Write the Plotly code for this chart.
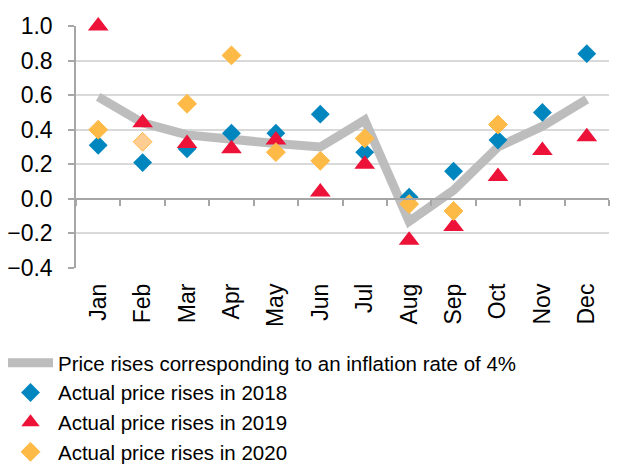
import plotly.graph_objects as go

months = ["Jan", "Feb", "Mar", "Apr", "May", "Jun", "Jul", "Aug", "Sep", "Oct", "Nov", "Dec"]
inflation_4pct = [0.59, 0.44, 0.37, 0.34, 0.32, 0.30, 0.456, -0.13, 0.05, 0.30, 0.42, 0.576]
rises_2018 = [0.31, 0.21, 0.29, 0.38, 0.38, 0.49, 0.27, 0.01, 0.16, 0.34, 0.50, 0.84]
rises_2019 = [1.00, 0.44, 0.32, 0.29, 0.34, 0.04, 0.20, -0.24, -0.16, 0.13, 0.28, 0.36]
rises_2020 = [0.40, 0.33, 0.55, 0.83, 0.27, 0.22, 0.35, -0.03, -0.07, 0.43, None, None]

y_ticks = [-0.4, -0.2, 0.0, 0.2, 0.4, 0.6, 0.8, 1.0]
y_min, y_max = -0.4, 1.0

FONT = "Liberation Sans, Arial, sans-serif"
BLUE = "#0086BF"
RED = "#EC1238"
ORANGE = "#FDBA47"
GRAY = "#BDBDBD"
AXIS = "#A6A6A6"

fig = go.Figure()

fig.add_trace(go.Scatter(
    x=months, y=inflation_4pct, mode="lines",
    name="Price rises corresponding to an inflation rate of 4%",
    line=dict(color=GRAY, width=9, shape="linear"),
    xaxis="x", yaxis="y", cliponaxis=False,
))

fig.add_trace(go.Scatter(
    x=months, y=rises_2018, mode="markers", name="Actual price rises in 2018",
    marker=dict(symbol="diamond", size=14.5, color=BLUE),
    xaxis="x2", yaxis="y", cliponaxis=False,
))
fig.add_trace(go.Scatter(
    x=months, y=rises_2019, mode="markers", name="Actual price rises in 2019",
    marker=dict(symbol="triangle-up", size=18, color=RED),
    xaxis="x2", yaxis="y", cliponaxis=False,
))
fill_2020 = [ORANGE] * len(months)
fill_2020[1] = "#FFCC92"
fig.add_trace(go.Scatter(
    x=months, y=rises_2020, mode="markers", name="Actual price rises in 2020",
    marker=dict(symbol="diamond", size=14.5, color=fill_2020,
                line=dict(color=ORANGE, width=1)),
    xaxis="x2", yaxis="y", cliponaxis=False,
))

zero_frac = (0 - y_min) / (y_max - y_min)

fig.update_layout(
    width=627, height=464,
    margin=dict(l=76, r=18, t=26, b=196, autoexpand=False),
    paper_bgcolor="white", plot_bgcolor="white",
    font=dict(family=FONT, color="#000000", size=23),
    showlegend=True,
    legend=dict(
        xref="container", yref="container",
        x=3 / 627, y=1 - 343 / 464, xanchor="left", yanchor="top",
        font=dict(family=FONT, size=20.5, color="#000000"),
        itemwidth=45, tracegroupgap=0, bgcolor="rgba(0,0,0,0)",
        itemclick=False,
    ),
    xaxis=dict(
        type="category", categoryorder="array", categoryarray=months,
        range=[-0.5, 11.5], showgrid=False, showline=False, zeroline=False,
        ticks="", tickangle=-90, tickfont=dict(size=23, family=FONT, color="#000000"),
        ticklabelstandoff=10,
    ),
    xaxis2=dict(
        type="category", categoryorder="array", categoryarray=months,
        matches="x", overlaying="x", anchor="free", position=zero_frac,
        showgrid=False, showline=True, linecolor=AXIS, linewidth=1.5,
        ticks="outside", tickson="boundaries", ticklen=6, tickcolor=AXIS, tickwidth=1.5,
        showticklabels=False, zeroline=False,
    ),
    yaxis=dict(
        range=[y_min, y_max], tickvals=y_ticks, tickformat=".1f",
        showgrid=True, gridcolor="#D9D9D9", gridwidth=1.5,
        showline=True, linecolor=AXIS, linewidth=1.5,
        ticks="outside", ticklen=6, tickcolor=AXIS, tickwidth=1.5,
        ticklabelstandoff=11,
        zeroline=False, tickfont=dict(size=23, family=FONT, color="#000000"),
    ),
)

fig.write_html(
    "out.html",
    config={"displayModeBar": False},
    post_script="document.body.style.margin='0';document.body.style.padding='0';",
)
